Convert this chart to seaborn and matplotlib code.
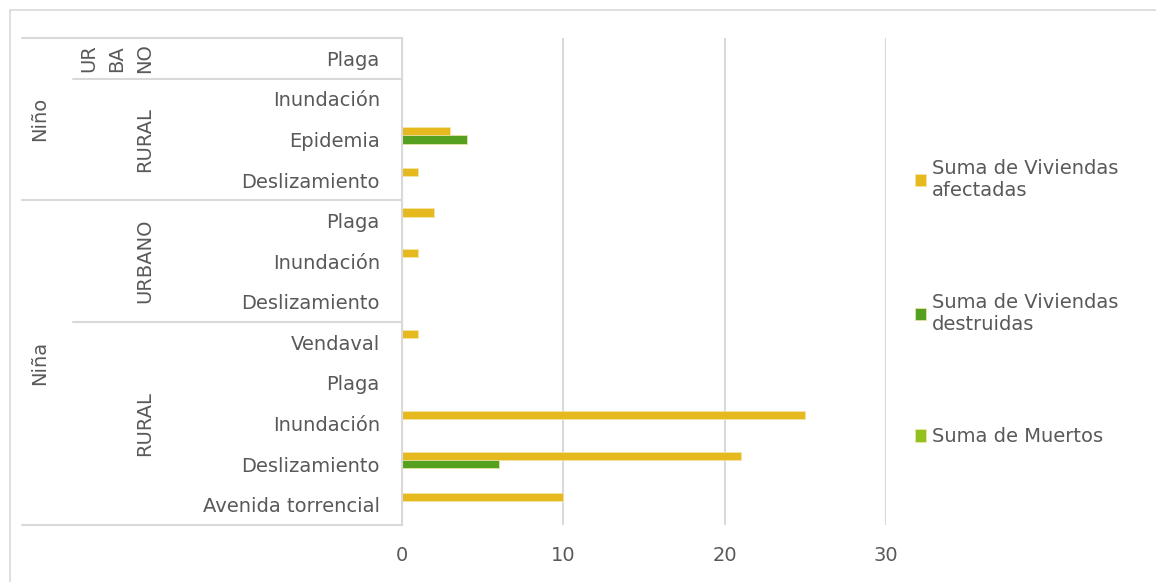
import numpy as np
import pandas as pd
import seaborn as sns
import matplotlib.pyplot as plt
from matplotlib.transforms import blended_transform_factory

# datos
fenomeno = ['Niño', 'Niño', 'Niño', 'Niño',
            'Niña', 'Niña', 'Niña', 'Niña', 'Niña', 'Niña', 'Niña', 'Niña']
zona = ['URBANO', 'RURAL', 'RURAL', 'RURAL',
        'URBANO', 'URBANO', 'URBANO',
        'RURAL', 'RURAL', 'RURAL', 'RURAL', 'RURAL']
evento = ['Plaga', 'Inundación', 'Epidemia', 'Deslizamiento',
          'Plaga', 'Inundación', 'Deslizamiento',
          'Vendaval', 'Plaga', 'Inundación', 'Deslizamiento', 'Avenida torrencial']
viviendas_afectadas = [0, 0, 3, 1, 2, 1, 0, 1, 0, 25, 21, 10]
viviendas_destruidas = [0, 0, 4, 0, 0, 0, 0, 0, 0, 0, 6, 0]
muertos = [0, 0, 0, 0, 0, 0, 0, 0, 0, 0, 0, 0]

series = ['Suma de Viviendas afectadas', 'Suma de Viviendas destruidas', 'Suma de Muertos']
colores = ['#E6B91E', '#55A11F', '#92C01F']

sns.set_theme(style='white')
plt.rcParams['font.family'] = ['DejaVu Sans']
gris = '#595959'
linea = '#D9D9D9'

claves = [f'{f}|{z}|{e}' for f, z, e in zip(fenomeno, zona, evento)]
df = pd.DataFrame({'clave': claves,
                   series[0]: viviendas_afectadas,
                   series[1]: viviendas_destruidas,
                   series[2]: muertos})
df_largo = df.melt(id_vars='clave', var_name='serie', value_name='valor')

fig = plt.figure(figsize=(11.56, 5.82), dpi=100)
ax = fig.add_axes([402 / 1156, 1 - 525 / 582, 484 / 1156, 487 / 582])

sns.barplot(data=df_largo, x='valor', y='clave', hue='serie', order=claves,
            hue_order=series, palette=colores, saturation=1, orient='h', width=0.6,
            edgecolor='#F5E6A8', linewidth=0.5, ax=ax, legend=True)

ax.set_xlim(0, 30)
ax.set_ylim(len(evento) - 0.5, -0.5)
ax.set_xticks([0, 10, 20, 30])
ax.xaxis.grid(True, color=linea, linewidth=1.5)
ax.set_axisbelow(True)
for lado in ['top', 'right', 'bottom']:
    ax.spines[lado].set_visible(False)
ax.spines['left'].set_color(linea)
ax.spines['left'].set_linewidth(1.5)
ax.set_xlabel('')
ax.set_ylabel('')
ax.tick_params(axis='x', length=0, pad=15, labelsize=14, labelcolor=gris)
ax.set_yticks(range(len(evento)))
ax.set_yticklabels(evento)
ax.tick_params(axis='y', length=0, pad=16, labelsize=14, labelcolor=gris)

# ejes de categorías multinivel
tr = blended_transform_factory(fig.transFigure, ax.transData)
for y in [-0.5, 3.5, 11.5]:
    ax.plot([22 / 1156, 402 / 1156], [y, y], transform=tr, color=linea,
            linewidth=1.5, clip_on=False)
for y in [0.5, 6.5]:
    ax.plot([73 / 1156, 402 / 1156], [y, y], transform=tr, color=linea,
            linewidth=1.5, clip_on=False)

kw = dict(transform=tr, rotation=90, ha='center', va='center',
          fontsize=14, color=gris)
ax.text(40 / 1156, 1.5, 'Niño', **kw)
ax.text(40 / 1156, 7.5, 'Niña', **kw)
ax.text(117 / 1156, 0, 'UR\nBA\nNO', linespacing=1.6, **kw)
ax.text(145 / 1156, 2, 'RURAL', **kw)
ax.text(145 / 1156, 5, 'URBANO', **kw)
ax.text(145 / 1156, 9, 'RURAL', **kw)

# marco exterior del gráfico
fig.add_artist(plt.Line2D([10 / 1156, 10 / 1156], [0, 1 - 10 / 582],
                          transform=fig.transFigure, color=linea, linewidth=1.2))
fig.add_artist(plt.Line2D([10 / 1156, 1], [1 - 10 / 582, 1 - 10 / 582],
                          transform=fig.transFigure, color=linea, linewidth=1.2))

handles, labels = ax.get_legend_handles_labels()
etiquetas = ['Suma de Viviendas\nafectadas', 'Suma de Viviendas\ndestruidas',
             'Suma de Muertos']
ax.legend(handles, etiquetas, loc='center left', bbox_to_anchor=(897 / 1156, 0.48),
          bbox_transform=fig.transFigure, frameon=False, fontsize=14,
          labelcolor=gris, handlelength=0.6, handleheight=0.6,
          handletextpad=0.3, labelspacing=4.8)

fig.savefig('out.png', dpi=100)
